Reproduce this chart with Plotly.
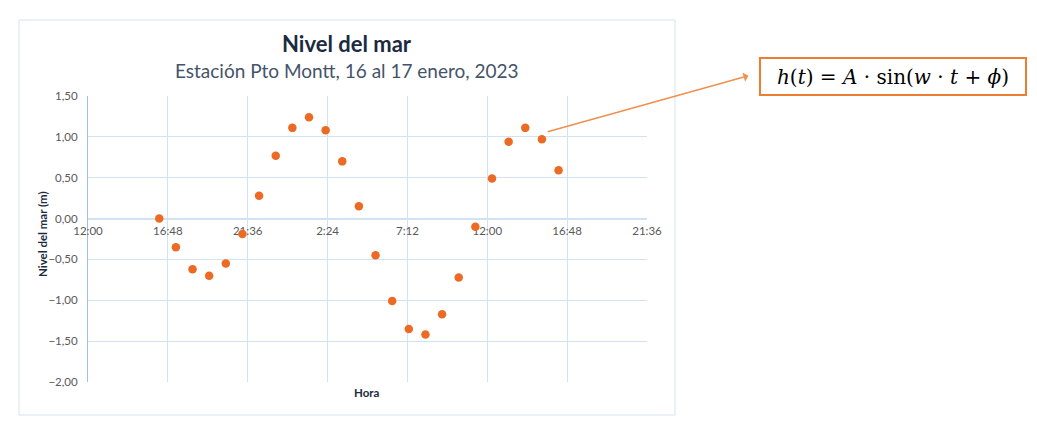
import plotly.graph_objects as go

# ---- data ----
times = [
    "2023-01-16 16:17", "2023-01-16 17:17", "2023-01-16 18:17", "2023-01-16 19:17",
    "2023-01-16 20:17", "2023-01-16 21:17", "2023-01-16 22:17", "2023-01-16 23:17",
    "2023-01-17 00:17", "2023-01-17 01:17", "2023-01-17 02:17", "2023-01-17 03:17",
    "2023-01-17 04:17", "2023-01-17 05:17", "2023-01-17 06:17", "2023-01-17 07:17",
    "2023-01-17 08:17", "2023-01-17 09:17", "2023-01-17 10:17", "2023-01-17 11:17",
    "2023-01-17 12:17", "2023-01-17 13:17", "2023-01-17 14:17", "2023-01-17 15:17",
    "2023-01-17 16:17",
]
nivel = [0.00, -0.35, -0.62, -0.70, -0.55, -0.19, 0.28, 0.77, 1.11, 1.24, 1.08, 0.70,
         0.15, -0.45, -1.01, -1.35, -1.42, -1.17, -0.72, -0.10, 0.49, 0.94, 1.11, 0.97, 0.59]

x_tickvals = ["2023-01-16 12:00", "2023-01-16 16:48", "2023-01-16 21:36", "2023-01-17 02:24",
              "2023-01-17 07:12", "2023-01-17 12:00", "2023-01-17 16:48", "2023-01-17 21:36"]
x_ticktext = ["12:00", "16:48", "21:36", "2:24", "7:12", "12:00", "16:48", "21:36"]
y_tickvals = [-2.0, -1.5, -1.0, -0.5, 0.0, 0.5, 1.0, 1.5]

title = "Nivel del mar"
subtitle = "Estación Pto Montt, 16 al 17 enero, 2023"
x_title = "Hora"
y_title = "Nivel del mar (m)"
formula = "<i>h</i>(<i>t</i>) = <i>A</i> · sin(<i>w</i> · <i>t</i> + <i>ϕ</i>)"

# ---- layout geometry (page pixels; the page body has an 8px margin) ----
OFF = 8
PAGE_W, PAGE_H = 1037, 436
W, H = PAGE_W - 2 * OFF, PAGE_H - 2 * OFF
PL, PR, PT, PB = 88, 647, 96, 382          # plot area edges on the page
L, T = PL - OFF, PT - OFF
R, B = W - (PR - OFF), H - (PB - OFF)
PW, PH = W - L - R, H - T - B


def px(xp):
    return (xp - OFF - L) / PW


def py(yp):
    return (H - B - (yp - OFF)) / PH


grid = "#D2E2F3"
font_fam = "Lato, 'Open Sans', sans-serif"

fig = go.Figure()
fig.add_trace(go.Scatter(
    x=times, y=nivel, mode="markers",
    marker=dict(size=8.5, color="#EC6A24", line=dict(width=0)),
    hoverinfo="x+y", showlegend=False,
))

ymin, ymax = -2.0, 1.5
fig.update_layout(
    width=W, height=H,
    margin=dict(l=L, r=R, t=T, b=B, pad=0),
    paper_bgcolor="white", plot_bgcolor="white",
    separators=",.",
    font=dict(family=font_fam, size=11, color="#595959"),
    xaxis=dict(
        type="date",
        range=[x_tickvals[0], x_tickvals[-1]],
        tickmode="array", tickvals=x_tickvals, ticktext=x_ticktext,
        showgrid=True, gridcolor=grid, gridwidth=1,
        showline=True, linecolor=grid, linewidth=1,
        anchor="free", position=(0 - ymin) / (ymax - ymin),
        ticks="", ticklabelstandoff=2, layer="below traces",
        tickfont=dict(size=11.5, color="#595959"),
        zeroline=False, fixedrange=True,
    ),
    yaxis=dict(
        range=[ymin, ymax],
        tickmode="array", tickvals=y_tickvals, tickformat=".2f",
        showgrid=True, gridcolor=grid, gridwidth=1,
        showline=True, linecolor="#9EC2E8", linewidth=1,
        zeroline=False, ticks="", ticklabelstandoff=7, layer="below traces",
        tickfont=dict(size=11.5, color="#595959"),
    ),
)

# outer chart border
fig.add_shape(type="rect", xref="paper", yref="paper",
              x0=px(19), x1=px(675), y0=py(415), y1=py(20),
              line=dict(color="#D6E2EF", width=1), fillcolor="rgba(0,0,0,0)", layer="below")

# title & subtitle
fig.add_annotation(xref="paper", yref="paper", x=px(347), y=py(44), text="<b>" + title + "</b>",
                   showarrow=False, xanchor="center", yanchor="middle",
                   font=dict(family=font_fam, size=22, color="#1B2A41"))
fig.add_annotation(xref="paper", yref="paper", x=px(347), y=py(70), text=subtitle,
                   showarrow=False, xanchor="center", yanchor="middle",
                   font=dict(family=font_fam, size=19, color="#44546A"))

# axis titles
fig.add_annotation(xref="paper", yref="paper", x=px(367), y=py(392), text="<b>" + x_title + "</b>",
                   showarrow=False, xanchor="center", yanchor="middle",
                   font=dict(family=font_fam, size=11.5, color="#1B2A41"))
fig.add_annotation(xref="paper", yref="paper", x=px(42), y=py(234), text="<b>" + y_title + "</b>",
                   showarrow=False, xanchor="center", yanchor="middle", textangle=-90,
                   font=dict(family=font_fam, size=11.5, color="#1B2A41"))

# formula box
fig.add_annotation(xref="paper", yref="paper", x=px(893), y=py(76.5), text=formula,
                   showarrow=False, xanchor="center", yanchor="middle",
                   width=262, height=33, borderpad=1,
                   bordercolor="#ED7D31", borderwidth=2, bgcolor="white",
                   font=dict(family="'DejaVu Serif', 'Liberation Serif', serif", size=20, color="black"))

# arrow from the point to the formula box
fig.add_annotation(x=times[23], y=nivel[23], xref="x", yref="y", text="",
                   showarrow=True, arrowside="start", arrowhead=2, arrowsize=1.1,
                   arrowwidth=1.6, arrowcolor="#F0904E",
                   yshift=6, ax=208, ay=-58, standoff=6)

fig.write_html("out.html")
